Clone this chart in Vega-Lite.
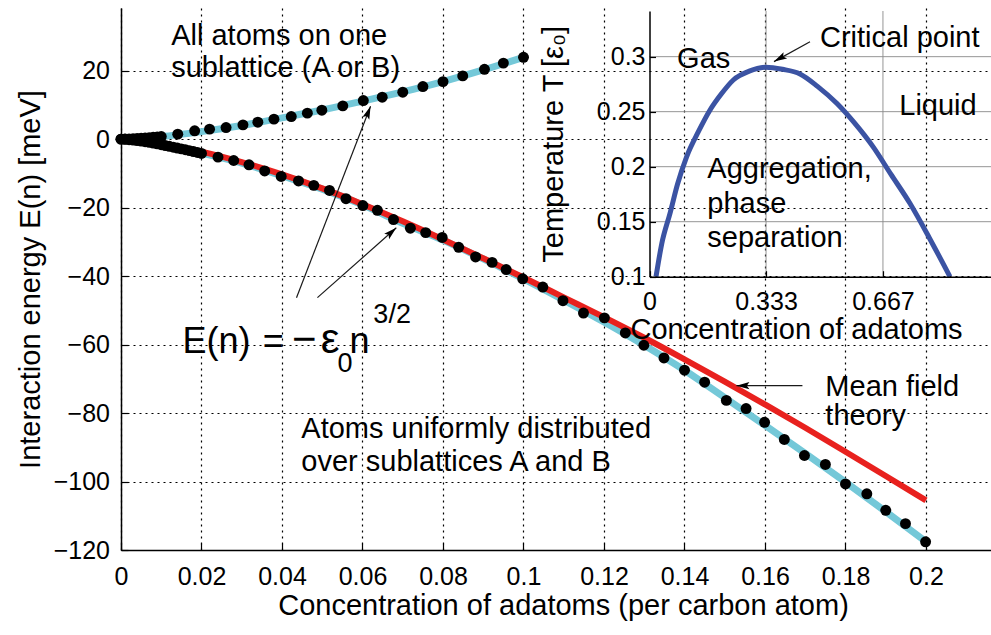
{
  "$schema": "https://vega.github.io/schema/vega-lite/v6.json",
  "width": 870,
  "height": 542,
  "autosize": {"type": "none"},
  "padding": {"left": 121, "top": 8, "right": 0, "bottom": 85},
  "background": "white",
  "config": {
    "view": {"stroke": null},
    "font": "Liberation Sans",
    "axis": {
      "labelFont": "Liberation Sans", "labelFontSize": 25, "labelColor": "black", "labelFlush": false,
      "titleFont": "Liberation Sans", "titleFontSize": 29, "titleFontWeight": "normal", "titleColor": "black",
      "domainColor": "black", "domainWidth": 1.5, "tickColor": "black", "tickSize": -7, "tickWidth": 1.2,
      "grid": true, "gridColor": "black", "gridDash": [2, 4], "gridOpacity": 1, "gridWidth": 1.2
    },
    "text": {"font": "Liberation Sans"}
  },
  "datasets": {
    "upper": [
      {"n": 0, "E": 0}, {"n": 0.001, "E": 0.03}, {"n": 0.002, "E": 0.07}, {"n": 0.003, "E": 0.12},
      {"n": 0.004, "E": 0.19}, {"n": 0.005, "E": 0.27}, {"n": 0.006, "E": 0.35}, {"n": 0.007, "E": 0.44},
      {"n": 0.008, "E": 0.54}, {"n": 0.009, "E": 0.64}, {"n": 0.01, "E": 0.75},
      {"n": 0.0141, "E": 1.46}, {"n": 0.0183, "E": 2.42}, {"n": 0.022, "E": 2.92}, {"n": 0.0261, "E": 3.39},
      {"n": 0.0303, "E": 4.17}, {"n": 0.034, "E": 4.96}, {"n": 0.038, "E": 5.84}, {"n": 0.0423, "E": 6.6},
      {"n": 0.0463, "E": 7.59}, {"n": 0.0499, "E": 8.46}, {"n": 0.0551, "E": 9.72}, {"n": 0.0602, "E": 11.26},
      {"n": 0.0649, "E": 12.26}, {"n": 0.07, "E": 13.7}, {"n": 0.075, "E": 15.35}, {"n": 0.08, "E": 16.8},
      {"n": 0.0849, "E": 18.47}, {"n": 0.0903, "E": 20.4}, {"n": 0.095, "E": 22.2}, {"n": 0.1, "E": 23.9}
    ],
    "lower": [
      {"n": 0, "E": 0}, {"n": 0.001, "E": -0.05}, {"n": 0.002, "E": -0.15}, {"n": 0.003, "E": -0.28},
      {"n": 0.004, "E": -0.42}, {"n": 0.005, "E": -0.58}, {"n": 0.006, "E": -0.76}, {"n": 0.007, "E": -0.95},
      {"n": 0.008, "E": -1.16}, {"n": 0.009, "E": -1.38}, {"n": 0.01, "E": -1.62}, {"n": 0.011, "E": -1.86},
      {"n": 0.012, "E": -2.1}, {"n": 0.013, "E": -2.35}, {"n": 0.014, "E": -2.6}, {"n": 0.015, "E": -2.85},
      {"n": 0.016, "E": -3.1}, {"n": 0.017, "E": -3.36}, {"n": 0.018, "E": -3.62}, {"n": 0.019, "E": -3.9},
      {"n": 0.02, "E": -4.18},
      {"n": 0.0241, "E": -5.25}, {"n": 0.028, "E": -6.24}, {"n": 0.0318, "E": -7.5}, {"n": 0.0357, "E": -9.3},
      {"n": 0.0398, "E": -10.9}, {"n": 0.0441, "E": -12.2}, {"n": 0.0479, "E": -13.5}, {"n": 0.0518, "E": -15.0},
      {"n": 0.0559, "E": -17.4}, {"n": 0.0601, "E": -19.4}, {"n": 0.0637, "E": -20.8}, {"n": 0.0677, "E": -23.5},
      {"n": 0.0719, "E": -26.0}, {"n": 0.0757, "E": -27.3}, {"n": 0.0798, "E": -28.7}, {"n": 0.0839, "E": -31.6},
      {"n": 0.0881, "E": -34.4}, {"n": 0.0922, "E": -36.0}, {"n": 0.0957, "E": -38.1}, {"n": 0.0998, "E": -40.8},
      {"n": 0.1048, "E": -43.2}, {"n": 0.1098, "E": -47.2}, {"n": 0.1149, "E": -50.8}, {"n": 0.1201, "E": -52.2},
      {"n": 0.1253, "E": -56.6}, {"n": 0.1299, "E": -60.2}, {"n": 0.1349, "E": -63.9}, {"n": 0.14, "E": -67.5},
      {"n": 0.145, "E": -71.0}, {"n": 0.1504, "E": -76.3}, {"n": 0.1553, "E": -78.7}, {"n": 0.1599, "E": -82.7},
      {"n": 0.1648, "E": -87.7}, {"n": 0.1698, "E": -92.4}, {"n": 0.175, "E": -95.0}, {"n": 0.18, "E": -100.7},
      {"n": 0.1853, "E": -103.6}, {"n": 0.19, "E": -108.4}, {"n": 0.1949, "E": -112.3}, {"n": 0.1999, "E": -117.6}
    ],
    "upperFit": [
      {"n": 0, "E": 0}, {"n": 0.01, "E": 0.75}, {"n": 0.02, "E": 2.2}, {"n": 0.03, "E": 4.0},
      {"n": 0.04, "E": 6.2}, {"n": 0.05, "E": 8.5}, {"n": 0.06, "E": 11.1}, {"n": 0.07, "E": 13.8},
      {"n": 0.08, "E": 16.8}, {"n": 0.09, "E": 20.2}, {"n": 0.1, "E": 23.9}
    ],
    "lowerFit": [
      {"n": 0, "E": 0}, {"n": 0.01, "E": -1.5}, {"n": 0.02, "E": -4.1}, {"n": 0.03, "E": -7.0},
      {"n": 0.04, "E": -10.7}, {"n": 0.05, "E": -14.6}, {"n": 0.06, "E": -19.2}, {"n": 0.07, "E": -24.6},
      {"n": 0.08, "E": -29.5}, {"n": 0.09, "E": -35.0}, {"n": 0.1, "E": -40.8}, {"n": 0.11, "E": -47.0},
      {"n": 0.12, "E": -53.4}, {"n": 0.13, "E": -60.2}, {"n": 0.14, "E": -67.5}, {"n": 0.15, "E": -75.5},
      {"n": 0.16, "E": -83.6}, {"n": 0.17, "E": -91.8}, {"n": 0.18, "E": -100.2}, {"n": 0.19, "E": -108.8},
      {"n": 0.2, "E": -117.6}
    ],
    "meanfield": [
      {"n": 0, "E": 0}, {"n": 0.005, "E": -0.46}, {"n": 0.01, "E": -1.3}, {"n": 0.015, "E": -2.4},
      {"n": 0.02, "E": -3.65}, {"n": 0.03, "E": -6.7}, {"n": 0.04, "E": -10.3}, {"n": 0.05, "E": -14.4},
      {"n": 0.06, "E": -19.0}, {"n": 0.07, "E": -24.0}, {"n": 0.08, "E": -29.3}, {"n": 0.09, "E": -34.8},
      {"n": 0.1, "E": -40.4}, {"n": 0.11, "E": -46.2}, {"n": 0.12, "E": -52.0}, {"n": 0.13, "E": -58.0},
      {"n": 0.14, "E": -64.3}, {"n": 0.15, "E": -70.8}, {"n": 0.16, "E": -77.5}, {"n": 0.17, "E": -84.3},
      {"n": 0.18, "E": -91.3}, {"n": 0.19, "E": -98.4}, {"n": 0.2, "E": -105.5}
    ],
    "notes": [
      {"label": "All atoms on one", "n": 0.01247, "E": 27.5},
      {"label": "sublattice (A or B)", "n": 0.01247, "E": 18.2},
      {"label": "Atoms uniformly distributed", "n": 0.0448, "E": -87.2},
      {"label": "over sublattices A and B", "n": 0.0448, "E": -96.8},
      {"label": "Mean field", "n": 0.175, "E": -74.9},
      {"label": "theory", "n": 0.175, "E": -83.4}
    ],
    "formulaBig": [
      {"label": "E(n)", "n": 0.0153, "E": -62.35},
      {"label": "=", "n": 0.0352, "E": -62.35},
      {"label": "n", "n": 0.0568, "E": -62.35}
    ],
    "formulaSym": [
      {"label": "−", "n": 0.0425, "E": -62.35},
      {"label": "ε", "n": 0.0496, "E": -62.35}
    ],
    "formulaSmall": [
      {"label": "0", "n": 0.0538, "E": -67.9},
      {"label": "3/2", "n": 0.0627, "E": -53.6}
    ],
    "arrows": [
      {"id": "a1", "n": 0.0436, "E": -46.3, "n2": 0.062, "E2": 9.6},
      {"id": "a2", "n": 0.0488, "E": -46.3, "n2": 0.0684, "E2": -25.9},
      {"id": "a3", "n": 0.1693, "E": -72.0, "n2": 0.1529, "E2": -72.0}
    ],
    "phase": [
      {"c": 0.0186, "T": 0.1}, {"c": 0.035, "T": 0.13}, {"c": 0.0586, "T": 0.1576}, {"c": 0.08, "T": 0.184},
      {"c": 0.106, "T": 0.209}, {"c": 0.14, "T": 0.232}, {"c": 0.173, "T": 0.2515}, {"c": 0.205, "T": 0.266},
      {"c": 0.2395, "T": 0.2788}, {"c": 0.285, "T": 0.2868}, {"c": 0.332, "T": 0.2904}, {"c": 0.38, "T": 0.2885},
      {"c": 0.43, "T": 0.2843}, {"c": 0.48, "T": 0.273}, {"c": 0.535, "T": 0.2576}, {"c": 0.585, "T": 0.24},
      {"c": 0.639, "T": 0.218}, {"c": 0.69, "T": 0.193}, {"c": 0.744, "T": 0.1667}, {"c": 0.8, "T": 0.135},
      {"c": 0.8586, "T": 0.1}
    ],
    "insetGridX": [{"c": 0.333}, {"c": 0.667}],
    "insetGridY": [{"T": 0.15, "c0": 0, "c1": 1}, {"T": 0.2, "c0": 0, "c1": 1}, {"T": 0.25, "c0": 0, "c1": 1}, {"T": 0.3, "c0": 0, "c1": 1}],
    "insetNotes": [
      {"label": "Critical point", "c": 0.4871, "T": 0.3091},
      {"label": "Gas", "c": 0.0789, "T": 0.2895},
      {"label": "Liquid", "c": 0.7137, "T": 0.247},
      {"label": "Aggregation,", "c": 0.1651, "T": 0.1895},
      {"label": "phase", "c": 0.1651, "T": 0.1579},
      {"label": "separation", "c": 0.1651, "T": 0.1273}
    ],
    "insetArrow": [
      {"c": 0.4586, "T": 0.3136, "c2": 0.3557, "T2": 0.2955}
    ]
  },
  "layer": [
    {
      "layer": [
        {
          "data": {"name": "upperFit"},
          "mark": {"type": "line", "color": "#74c8d8", "strokeWidth": 7, "interpolate": "monotone"},
          "encoding": {
            "x": {
              "field": "n", "type": "quantitative",
              "scale": {"domain": [0, 0.21615], "nice": false, "zero": false},
              "axis": {
                "grid": true,
                "values": [0, 0.02, 0.04, 0.06, 0.08, 0.1, 0.12, 0.14, 0.16, 0.18, 0.2],
                "format": "~g", "labelPadding": 21, "titlePadding": 2, "titleX": 442,
                "title": "Concentration of adatoms (per carbon atom)"
              }
            },
            "y": {
              "field": "E", "type": "quantitative",
              "scale": {"domain": [-120, 38.3], "nice": false, "zero": false},
              "axis": {
                "grid": true,
                "values": [-120, -100, -80, -60, -40, -20, 0, 20],
                "labelPadding": 18.5, "titlePadding": 8,
                "title": "Interaction energy E(n)  [meV]"
              }
            }
          }
        },
        {
          "data": {"name": "lowerFit"},
          "mark": {"type": "line", "color": "#74c8d8", "strokeWidth": 7, "interpolate": "monotone"},
          "encoding": {
            "x": {"field": "n", "type": "quantitative"},
            "y": {"field": "E", "type": "quantitative"}
          }
        },
        {
          "data": {"name": "meanfield"},
          "mark": {"type": "line", "color": "#e8211e", "strokeWidth": 6, "interpolate": "monotone"},
          "encoding": {
            "x": {"field": "n", "type": "quantitative"},
            "y": {"field": "E", "type": "quantitative"}
          }
        },
        {
          "data": {"name": "upper"},
          "mark": {"type": "point", "filled": true, "color": "black", "size": 120, "opacity": 1},
          "encoding": {
            "x": {"field": "n", "type": "quantitative"},
            "y": {"field": "E", "type": "quantitative"}
          }
        },
        {
          "data": {"name": "lower"},
          "mark": {"type": "point", "filled": true, "color": "black", "size": 120, "opacity": 1},
          "encoding": {
            "x": {"field": "n", "type": "quantitative"},
            "y": {"field": "E", "type": "quantitative"}
          }
        },
        {
          "data": {"name": "notes"},
          "mark": {"type": "text", "align": "left", "baseline": "alphabetic", "fontSize": 29, "color": "black"},
          "encoding": {
            "x": {"field": "n", "type": "quantitative"},
            "y": {"field": "E", "type": "quantitative"},
            "text": {"field": "label"}
          }
        },
        {
          "data": {"name": "formulaBig"},
          "mark": {"type": "text", "align": "left", "baseline": "alphabetic", "fontSize": 36, "color": "black"},
          "encoding": {
            "x": {"field": "n", "type": "quantitative"},
            "y": {"field": "E", "type": "quantitative"},
            "text": {"field": "label"}
          }
        },
        {
          "data": {"name": "formulaSym"},
          "mark": {"type": "text", "align": "left", "baseline": "alphabetic", "fontSize": 42, "color": "black"},
          "encoding": {
            "x": {"field": "n", "type": "quantitative"},
            "y": {"field": "E", "type": "quantitative"},
            "text": {"field": "label"}
          }
        },
        {
          "data": {"name": "formulaSmall"},
          "mark": {"type": "text", "align": "left", "baseline": "alphabetic", "fontSize": 27, "color": "black"},
          "encoding": {
            "x": {"field": "n", "type": "quantitative"},
            "y": {"field": "E", "type": "quantitative"},
            "text": {"field": "label"}
          }
        },
        {
          "data": {"name": "arrows"},
          "mark": {"type": "rule", "color": "#1a1a1a", "strokeWidth": 1.2},
          "encoding": {
            "x": {"field": "n", "type": "quantitative"},
            "y": {"field": "E", "type": "quantitative"},
            "x2": {"field": "n2"},
            "y2": {"field": "E2"}
          }
        },
        {
          "data": {"name": "arrows"},
          "transform": [{"filter": "datum.id == 'a1'"}],
          "mark": {"type": "point", "shape": "M0,0L-0.42,1.5L0,1.2L0.42,1.5Z", "filled": true, "color": "black", "size": 300, "angle": 21, "opacity": 1},
          "encoding": {
            "x": {"field": "n2", "type": "quantitative"},
            "y": {"field": "E2", "type": "quantitative"}
          }
        },
        {
          "data": {"name": "arrows"},
          "transform": [{"filter": "datum.id == 'a2'"}],
          "mark": {"type": "point", "shape": "M0,0L-0.42,1.5L0,1.2L0.42,1.5Z", "filled": true, "color": "black", "size": 300, "angle": 48, "opacity": 1},
          "encoding": {
            "x": {"field": "n2", "type": "quantitative"},
            "y": {"field": "E2", "type": "quantitative"}
          }
        },
        {
          "data": {"name": "arrows"},
          "transform": [{"filter": "datum.id == 'a3'"}],
          "mark": {"type": "point", "shape": "M0,0L-0.42,1.5L0,1.2L0.42,1.5Z", "filled": true, "color": "black", "size": 300, "angle": 270, "opacity": 1},
          "encoding": {
            "x": {"field": "n2", "type": "quantitative"},
            "y": {"field": "E2", "type": "quantitative"}
          }
        },
        {
          "mark": {"type": "rule", "color": "black", "strokeWidth": 1.5},
          "encoding": {"y": {"datum": 38.3, "type": "quantitative"}}
        }
      ]
    },
    {
      "layer": [
        {
          "mark": {"type": "rect", "fill": "white", "stroke": "black", "strokeWidth": 1.3, "opacity": 1},
          "encoding": {
            "x": {"datum": 0, "type": "quantitative"},
            "x2": {"datum": 1},
            "y": {"datum": 0.1, "type": "quantitative"},
            "y2": {"datum": 0.3415}
          }
        },
        {
          "data": {"name": "insetGridX"},
          "mark": {"type": "rule", "color": "#8a8a8a", "strokeWidth": 0.9},
          "encoding": {
            "x": {"field": "c", "type": "quantitative"},
            "y": {"datum": 0.1, "type": "quantitative"},
            "y2": {"datum": 0.3415}
          }
        },
        {
          "data": {"name": "insetGridY"},
          "mark": {"type": "rule", "color": "#8a8a8a", "strokeWidth": 0.9},
          "encoding": {
            "y": {"field": "T", "type": "quantitative"},
            "x": {"field": "c0", "type": "quantitative"},
            "x2": {"field": "c1"}
          }
        },
        {
          "data": {"name": "phase"},
          "mark": {"type": "line", "color": "#3b53a3", "strokeWidth": 5, "interpolate": "monotone"},
          "encoding": {
            "x": {
              "field": "c", "type": "quantitative",
              "scale": {"domain": [0, 1], "range": [528.5, 878.5], "nice": false, "zero": false},
              "axis": {
                "grid": false,
                "orient": "bottom", "offset": -273.3, "zindex": 1, "tickSize": -6,
                "values": [0, 0.333, 0.667],
                "labelExpr": "datum.value == 0 ? '0' : format(datum.value, '.3f')",
                "labelPadding": 19, "titlePadding": 1, "titleX": 675,
                "title": "Concentration of adatoms"
              }
            },
            "y": {
              "field": "T", "type": "quantitative",
              "scale": {"domain": [0.1, 0.3415], "range": [268.7, 3], "nice": false, "zero": false},
              "axis": {
                "grid": false,
                "orient": "left", "offset": -528.5, "zindex": 1, "tickSize": -6,
                "values": [0.1, 0.15, 0.2, 0.25, 0.3], "format": "~g",
                "labelPadding": 10.5, "titlePadding": 28,
                "title": "Temperature T [ε₀]"
              }
            }
          }
        },
        {
          "data": {"name": "insetNotes"},
          "mark": {"type": "text", "align": "left", "baseline": "alphabetic", "fontSize": 29, "color": "black"},
          "encoding": {
            "x": {"field": "c", "type": "quantitative"},
            "y": {"field": "T", "type": "quantitative"},
            "text": {"field": "label"}
          }
        },
        {
          "data": {"name": "insetArrow"},
          "mark": {"type": "rule", "color": "#1a1a1a", "strokeWidth": 1.2},
          "encoding": {
            "x": {"field": "c", "type": "quantitative"},
            "y": {"field": "T", "type": "quantitative"},
            "x2": {"field": "c2"},
            "y2": {"field": "T2"}
          }
        },
        {
          "data": {"name": "insetArrow"},
          "mark": {"type": "point", "shape": "M0,0L-0.42,1.5L0,1.2L0.42,1.5Z", "filled": true, "color": "black", "size": 300, "angle": 241, "opacity": 1},
          "encoding": {
            "x": {"field": "c2", "type": "quantitative"},
            "y": {"field": "T2", "type": "quantitative"}
          }
        }
      ]
    }
  ],
  "resolve": {
    "scale": {"x": "independent", "y": "independent"},
    "axis": {"x": "independent", "y": "independent"}
  }
}
